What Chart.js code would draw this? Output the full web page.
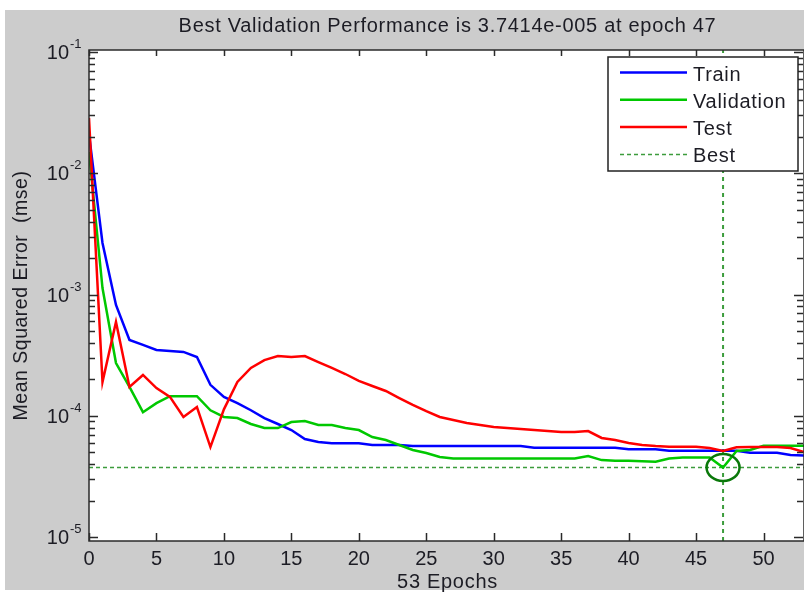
<!DOCTYPE html>
<html>
<head>
<meta charset="utf-8">
<script src="https://cdn.jsdelivr.net/npm/chart.js@4.4.1/dist/chart.umd.min.js"></script>
<style>
    html, body { margin: 0; padding: 0; background: #fff; }
    canvas { display: block; }
</style>
</head>
<body>
<canvas id="perf-chart" width="804" height="594"></canvas>
<script>
// Performance per epoch (mse)
const epochs = [0,1,2,3,4,5,6,7,8,9,10,11,12,13,14,15,16,17,18,19,20,21,22,23,24,25,26,
    27,28,29,30,31,32,33,34,35,36,37,38,39,40,41,42,43,44,45,46,47,48,49,50,51,52,53];

const trainPerf = [2.1e-2, 2.66e-3, 8.2e-4, 4.22e-4, 3.84e-4, 3.49e-4, 3.42e-4, 3.36e-4, 3.05e-4, 1.80e-4,
    1.43e-4, 1.27e-4, 1.11e-4, 9.57e-5, 8.55e-5, 7.62e-5, 6.43e-5, 6.08e-5, 5.93e-5, 5.93e-5,
    5.93e-5, 5.74e-5, 5.74e-5, 5.74e-5, 5.63e-5, 5.63e-5, 5.63e-5, 5.63e-5, 5.63e-5, 5.63e-5,
    5.63e-5, 5.63e-5, 5.63e-5, 5.45e-5, 5.45e-5, 5.45e-5, 5.45e-5, 5.45e-5, 5.45e-5, 5.45e-5,
    5.29e-5, 5.29e-5, 5.29e-5, 5.14e-5, 5.14e-5, 5.14e-5, 5.14e-5, 5.14e-5, 5.14e-5, 4.96e-5,
    4.96e-5, 4.96e-5, 4.74e-5, 4.70e-5];

const valPerf = [1.50e-2, 1.13e-3, 2.72e-4, 1.73e-4, 1.07e-4, 1.27e-4, 1.45e-4, 1.45e-4, 1.45e-4, 1.11e-4,
    9.77e-5, 9.58e-5, 8.55e-5, 7.92e-5, 7.92e-5, 8.87e-5, 9.05e-5, 8.39e-5, 8.39e-5, 7.92e-5,
    7.62e-5, 6.68e-5, 6.31e-5, 5.74e-5, 5.22e-5, 4.93e-5, 4.57e-5, 4.44e-5, 4.44e-5, 4.44e-5,
    4.44e-5, 4.44e-5, 4.44e-5, 4.44e-5, 4.44e-5, 4.44e-5, 4.44e-5, 4.66e-5, 4.31e-5, 4.26e-5,
    4.26e-5, 4.22e-5, 4.18e-5, 4.44e-5, 4.53e-5, 4.53e-5, 4.53e-5, 3.7414e-5, 5.12e-5, 5.22e-5,
    5.66e-5, 5.66e-5, 5.66e-5, 5.66e-5];

const testPerf = [2.86e-2, 1.90e-4, 5.93e-4, 1.73e-4, 2.17e-4, 1.69e-4, 1.43e-4, 9.77e-5, 1.18e-4, 5.52e-5,
    1.13e-4, 1.90e-4, 2.48e-4, 2.88e-4, 3.11e-4, 3.05e-4, 3.11e-4, 2.77e-4, 2.48e-4, 2.21e-4,
    1.94e-4, 1.76e-4, 1.60e-4, 1.40e-4, 1.23e-4, 1.09e-4, 9.77e-5, 9.23e-5, 8.72e-5, 8.39e-5,
    8.08e-5, 7.92e-5, 7.78e-5, 7.62e-5, 7.48e-5, 7.35e-5, 7.35e-5, 7.48e-5, 6.56e-5, 6.31e-5,
    5.96e-5, 5.74e-5, 5.63e-5, 5.56e-5, 5.56e-5, 5.56e-5, 5.42e-5, 5.12e-5, 5.50e-5, 5.52e-5,
    5.52e-5, 5.52e-5, 5.42e-5, 5.02e-5];

const bestEpoch = 47;
const bestPerf = 3.7414e-5;

const xTicks = [0, 5, 10, 15, 20, 25, 30, 35, 40, 45, 50];
const yTickExponents = [-5, -4, -3, -2, -1];
const xMax = 53;
const yMin = 9.27e-6;
const yMax = 0.1039;

const titleText = "Best Validation Performance is 3.7414e-005 at epoch 47";
const xLabel = "53 Epochs";
const yLabel = "Mean Squared Error  (mse)";
const legendLabels = ["Train", "Validation", "Test", "Best"];

const FONT = '"Liberation Sans", Arial, sans-serif';
const TEXT_COLOR = '#1c1c24';
const GREEN = '#00c800';
const BEST_GREEN = '#3c9c3c';

function toPoints(values) {
    return epochs.map((e, i) => ({ x: e, y: values[i] }));
}

// letter spacing helper (windows-ish wide text)
function setSpacing(ctx, px) {
    if ('letterSpacing' in ctx) ctx.letterSpacing = px + 'px';
}

// Draws the matlab-style figure: gray frame, box with inward ticks, labels and legend
const figurePlugin = {
    id: 'figure',
    beforeDraw(chart) {
        const ctx = chart.ctx;
        const a = chart.chartArea;
        ctx.save();
        ctx.fillStyle = '#ffffff';
        ctx.fillRect(0, 0, chart.width, chart.height);
        ctx.fillStyle = '#cccccc';
        ctx.fillRect(5, 10, chart.width - 5, 580);
        ctx.fillStyle = '#ffffff';
        ctx.fillRect(a.left, a.top, a.right - a.left, a.bottom - a.top);
        ctx.restore();
    },
    afterDatasetsDraw(chart) {
        // circle round the best validation point
        const ctx = chart.ctx;
        const cx = chart.scales.x.getPixelForValue(bestEpoch);
        const cy = chart.scales.y.getPixelForValue(bestPerf);
        ctx.save();
        ctx.strokeStyle = '#0a780a';
        ctx.lineWidth = 2.5;
        ctx.beginPath();
        ctx.ellipse(cx, cy, 16.5, 13.5, 0, 0, Math.PI * 2);
        ctx.stroke();
        ctx.restore();
    },
    afterDraw(chart) {
        const ctx = chart.ctx;
        const a = chart.chartArea;
        const xs = chart.scales.x;
        const ys = chart.scales.y;

        ctx.save();
        ctx.strokeStyle = '#2a2a2a';
        ctx.lineWidth = 1.5;

        // box
        ctx.strokeRect(a.left, a.top, a.right - a.left, a.bottom - a.top);

        // x ticks, bottom and top
        ctx.beginPath();
        xTicks.forEach(t => {
            const px = Math.round(xs.getPixelForValue(t)) + 0.5;
            ctx.moveTo(px, a.bottom); ctx.lineTo(px, a.bottom - 8);
            ctx.moveTo(px, a.top); ctx.lineTo(px, a.top + 6);
        });
        // y ticks, major and minor, left and right
        for (let k = -6; k <= 0; k++) {
            for (let m = 1; m <= 9; m++) {
                const v = m * Math.pow(10, k);
                if (v < yMin || v > yMax) continue;
                const py = Math.round(ys.getPixelForValue(v)) + 0.5;
                const len = m === 1 ? 9 : 6;
                ctx.moveTo(a.left, py); ctx.lineTo(a.left + len, py);
                ctx.moveTo(a.right - 1, py); ctx.lineTo(a.right - 1 - len, py);
            }
        }
        ctx.stroke();

        ctx.fillStyle = TEXT_COLOR;

        // x tick labels
        ctx.font = '20px ' + FONT;
        ctx.textAlign = 'center';
        ctx.textBaseline = 'alphabetic';
        xTicks.forEach(t => {
            ctx.fillText(String(t), xs.getPixelForValue(t), 565);
        });

        // y tick labels 10^k
        yTickExponents.forEach(k => {
            const py = ys.getPixelForValue(Math.pow(10, k));
            ctx.font = '20px ' + FONT;
            ctx.textAlign = 'right';
            ctx.fillText('10', 69, py + 7);
            ctx.font = '13px ' + FONT;
            ctx.textAlign = 'left';
            ctx.fillText(String(k), 70, py - 4);
        });

        // title and axis labels
        ctx.font = '20px ' + FONT;
        ctx.textAlign = 'center';
        setSpacing(ctx, 0.7);
        ctx.fillText(titleText, (a.left + a.right) / 2 + 1, 32);
        ctx.fillText(xLabel, (a.left + a.right) / 2 + 1, 588);

        ctx.save();
        ctx.translate(27, (a.top + a.bottom) / 2);
        ctx.rotate(-Math.PI / 2);
        ctx.font = '19.5px ' + FONT;
        setSpacing(ctx, 0.5);
        ctx.fillText(yLabel, 0, 0);
        ctx.restore();
        setSpacing(ctx, 0);

        // legend
        const lx = 608, ly = 57, lw = 190, lh = 114;
        ctx.fillStyle = '#ffffff';
        ctx.fillRect(lx, ly, lw, lh);
        ctx.strokeStyle = '#222222';
        ctx.lineWidth = 1.5;
        ctx.strokeRect(lx, ly, lw, lh);

        const colors = ['#0000ff', GREEN, '#ff0000', BEST_GREEN];
        legendLabels.forEach((label, i) => {
            const ry = 72.5 + i * 27.3;
            ctx.beginPath();
            ctx.strokeStyle = colors[i];
            if (i === 3) {
                ctx.lineWidth = 1.5;
                ctx.setLineDash([4, 3]);
            } else {
                ctx.lineWidth = 2.5;
                ctx.setLineDash([]);
            }
            ctx.moveTo(620, ry); ctx.lineTo(687, ry);
            ctx.stroke();
            ctx.setLineDash([]);
            ctx.fillStyle = TEXT_COLOR;
            ctx.font = '20px ' + FONT;
            ctx.textAlign = 'left';
            setSpacing(ctx, 0.7);
            ctx.fillText(label, 693, ry + 8);
            setSpacing(ctx, 0);
        });

        ctx.restore();
    }
};

const ctx = document.getElementById('perf-chart').getContext('2d');
const perfChart = new Chart(ctx, {
    type: 'line',
    data: {
        datasets: [
            {
                label: legendLabels[2],
                data: toPoints(testPerf),
                borderColor: '#ff0000',
                borderWidth: 2.5,
                pointRadius: 0,
                order: 1
            },
            {
                label: legendLabels[1],
                data: toPoints(valPerf),
                borderColor: GREEN,
                borderWidth: 2.5,
                pointRadius: 0,
                order: 2
            },
            {
                label: legendLabels[0],
                data: toPoints(trainPerf),
                borderColor: '#0000ff',
                borderWidth: 2.5,
                pointRadius: 0,
                order: 3
            },
            {
                label: 'Best horizontal',
                data: [{ x: 0, y: bestPerf }, { x: xMax, y: bestPerf }],
                borderColor: BEST_GREEN,
                borderWidth: 1.5,
                borderDash: [4, 3],
                pointRadius: 0,
                order: 4
            },
            {
                label: 'Best vertical',
                data: [{ x: bestEpoch, y: yMin }, { x: bestEpoch, y: yMax }],
                borderColor: BEST_GREEN,
                borderWidth: 2,
                borderDash: [4, 4],
                pointRadius: 0,
                order: 4
            }
        ]
    },
    options: {
        responsive: false,
        animation: false,
        layout: {
            autoPadding: false,
            padding: { left: 89, top: 50, right: 0, bottom: 53 }
        },
        plugins: {
            legend: { display: false },
            tooltip: { enabled: false },
            title: { display: false }
        },
        scales: {
            x: { type: 'linear', display: false, min: 0, max: xMax },
            y: { type: 'logarithmic', display: false, min: yMin, max: yMax }
        }
    },
    plugins: [figurePlugin]
});
</script>
</body>
</html>
